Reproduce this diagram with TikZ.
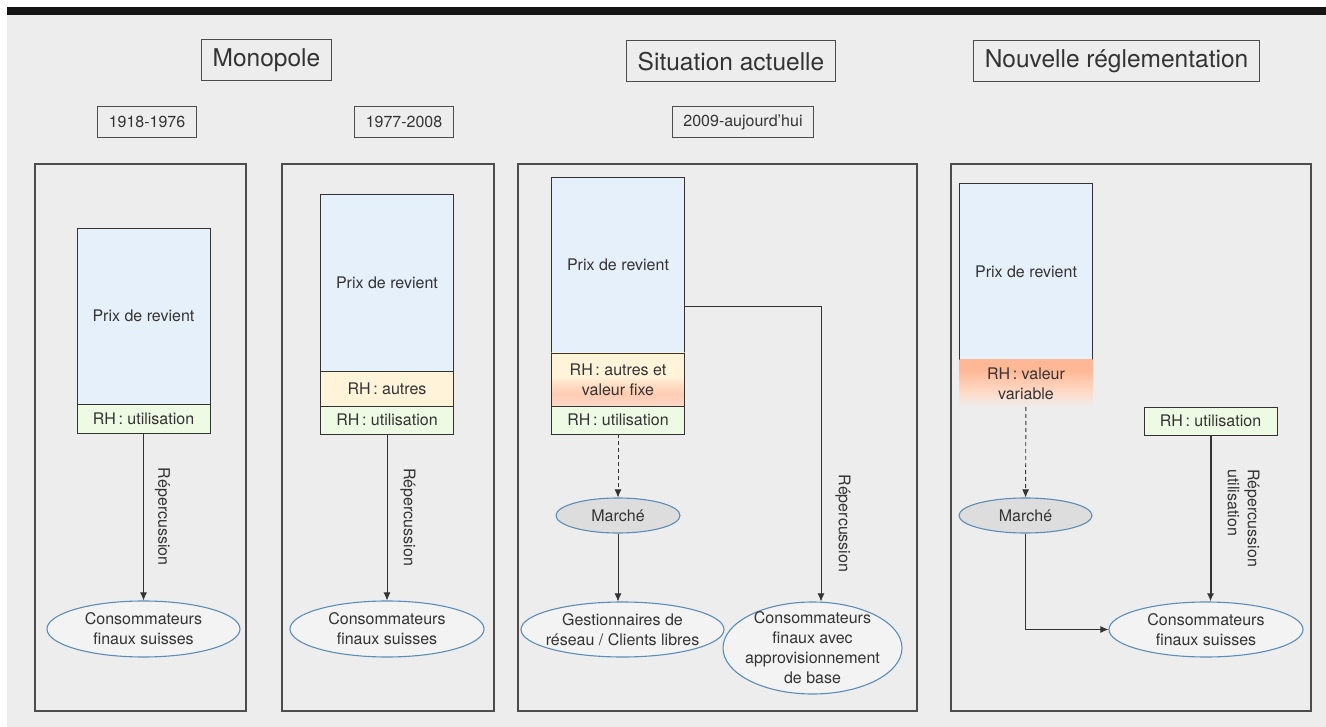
\documentclass[tikz,border=0pt]{standalone}
\usepackage{fontspec}
\setmainfont{TeX Gyre Heros}
\usepackage{tikz}
\usetikzlibrary{shapes.geometric, positioning, arrows.meta}

\definecolor{bggray}{HTML}{EDEDED}
\definecolor{barblack}{HTML}{151515}
\definecolor{txtgray}{HTML}{333333}
\definecolor{framegray}{HTML}{4D4D4D}
\definecolor{costblue}{HTML}{E6F0FA}
\definecolor{usegreen}{HTML}{EFFAE5}
\definecolor{othercream}{HTML}{FFF4DA}
\definecolor{fixsalmon}{HTML}{FFCCB3}
\definecolor{fixlow}{HTML}{FFD9C8}
\definecolor{varsalmon}{HTML}{FFB896}
\definecolor{varpeach}{HTML}{FFDCCA}
\definecolor{ellblue}{HTML}{5B8DB8}
\definecolor{ellfill}{HTML}{F3F3F3}
\definecolor{marketgray}{HTML}{DDDDDD}

% shadings of the two mixed RH boxes (box spans 25bp..75bp)
\pgfdeclareverticalshading{fixshade}{100bp}{color(0bp)=(fixlow); color(25bp)=(fixlow);
color(36bp)=(fixsalmon); color(46bp)=(othercream!50!fixsalmon); color(53bp)=(othercream);
color(75bp)=(othercream); color(100bp)=(othercream)}
\pgfdeclareverticalshading{varshade}{100bp}{color(0bp)=(bggray); color(25bp)=(bggray);
color(40bp)=(varpeach); color(64bp)=(varsalmon); color(75bp)=(varsalmon);
color(100bp)=(varsalmon)}

\tikzstyle{titlebox} = [draw=framegray, line width=1pt,
font=\fontsize{24.5}{28}\selectfont,
minimum height=41pt, inner xsep=11pt]
\tikzstyle{yearbox} = [draw=framegray, line width=0.9pt,
minimum height=31pt, inner xsep=11pt]
\tikzstyle{panelbox} = [draw=framegray, line width=1.6pt]
\tikzstyle{costbox} = [draw=txtgray, line width=0.9pt, fill=costblue,
minimum width=133pt, minimum height=176pt,
outer sep=0pt, inner sep=0pt]
\tikzstyle{rhbox} = [draw=txtgray, line width=0.9pt,
minimum width=133pt, outer sep=0pt, inner sep=0pt, align=center]
\tikzstyle{consumer} = [ellipse, draw=ellblue, line width=1.1pt,
fill=ellfill, inner xsep=-80pt, inner ysep=-40pt, align=center]
\tikzstyle{market} = [consumer, fill=marketgray,
minimum width=124pt, minimum height=35pt]
\tikzstyle{flow} = [-{Latex[length=8pt,width=7pt]}, draw=txtgray, line width=0.9pt]
\tikzstyle{flowlabel} = [rotate=-90, inner sep=0pt]

\begin{document}
\begin{tikzpicture}[x=1pt, y=-1pt, font=\fontsize{16}{20}\selectfont, text=txtgray]
	%% background and top bar
	\fill[white] (0,0) rectangle (1326,727);
	\fill[bggray] (7,7) rectangle (1326,727);
	\fill[barblack] (7,7) rectangle (1326,15);
	%% panels
	\draw[panelbox] (35,164) rectangle (246,711);
	\draw[panelbox] (282,164) rectangle (494,711);
	\draw[panelbox] (518,164) rectangle (917,711);
	\draw[panelbox] (951,164) rectangle (1311,711);
	%% headings
	\node[titlebox] (monopole) at (266.5,60.5) {Monopole};
	\node[titlebox] (actuelle) at (731,61.5) {Situation actuelle};
	\node[titlebox] (nouvelle) at (1116.5,61.5) {Nouvelle réglementation};
	\node[yearbox] (yearA) at (147,121.5) {1918-1976};
	\node[yearbox] (yearB) at (404,122) {1977-2008};
	\node[yearbox] (yearC) at (743,122) {2009-aujourd'hui};
	%% 1918-1976
	\node[costbox] (cost1) at (143.5,316) {Prix de revient};
	\node[rhbox, fill=usegreen, minimum height=29pt, below=0pt of cost1] (use1) {RH\,: utilisation};
	\node[consumer, minimum width=193pt, minimum height=56pt] (cons1) at (143.5,629) {Consommateurs\\finaux suisses};
	\draw[flow] (use1) -- (cons1)
    node[midway, xshift=19pt, flowlabel] {Répercussion};
	%% 1977-2008
	\node[costbox, minimum height=177pt] (cost2) at (387,282.5) {Prix de revient};
	\node[rhbox, fill=othercream, minimum height=35pt, below=0pt of cost2] (other2) {RH\,: autres};
	\node[rhbox, fill=usegreen, minimum height=28pt, below=0pt of other2] (use2) {RH\,: utilisation};
	\node[consumer, minimum width=194pt, minimum height=56pt] (cons2) at (387,629) {Consommateurs\\finaux suisses};
	\draw[flow] (use2) -- (cons2)
    node[midway, xshift=21pt, flowlabel] {Répercussion};
	%% 2009-aujourd'hui
	\node[costbox] (cost3) at (618,265) {Prix de revient};
	\node[rhbox, shading=fixshade, minimum height=53pt, below=0pt of cost3] (fix3) {RH\,: autres et\\valeur fixe};
	\node[rhbox, fill=usegreen, minimum height=28pt, below=0pt of fix3] (use3) {RH\,: utilisation};
	\node[market] (market3) at (618,515.5) {Marché};
	\node[consumer, minimum width=203pt, minimum height=55pt] (grid3) at (622.5,629.5) {Gestionnaires de\\réseau / Clients libres};
	\node[consumer, minimum width=179pt, minimum height=92pt] (basic3) at (812.5,648) {Consommateurs\\finaux avec\\approvisionnement\\de base};
	\draw[flow, dash pattern=on 4pt off 3pt] (use3) -- (market3);
	\draw[flow] (market3) -- (market3 |- grid3.north);
	\draw[flow] ([yshift=47pt]cost3.south east) -| ([xshift=8.5pt]basic3.north)
    node[pos=0.868, xshift=22pt, flowlabel] {Répercussion};
	%% nouvelle reglementation
	\node[costbox, minimum height=177pt] (cost4) at (1026,271.5) {Prix de revient};
	\node[rhbox, draw=none, shading=varshade, minimum height=47pt, below=0pt of cost4] (var4) {RH\,: valeur\\variable};
	\node[rhbox, fill=usegreen, minimum height=28pt] (use4) at (1210.5,421) {RH\,: utilisation};
	\node[market, minimum width=133pt] (market4) at (1025.5,515.5) {Marché};
	\node[consumer, minimum width=194pt, minimum height=55pt] (cons4) at (1206,629.5) {Consommateurs\\finaux suisses};
	\draw[flow, dash pattern=on 4pt off 3pt] (var4) -- (market4);
	\draw[flow] (market4) |- (cons4);
	\draw[flow, line width=2pt] (use4) -- (use4 |- cons4.north)
    node[midway, xshift=33pt, flowlabel, align=left] {Répercussion\\utilisation};
\end{tikzpicture}
\end{document}
